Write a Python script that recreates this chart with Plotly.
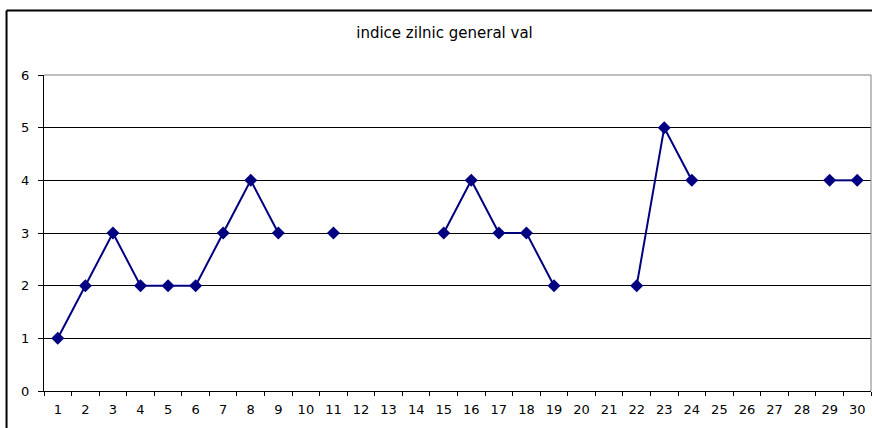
import plotly.graph_objects as go

categories = [str(i) for i in range(1, 31)]
values = [1, 2, 3, 2, 2, 2, 3, 4, 3, None, 3, None, None, None, 3, 4, 3, 3, 2, None,
          None, 2, 5, 4, None, None, None, None, 4, 4]
y_ticks = [0, 1, 2, 3, 4, 5, 6]
title_text = "indice zilnic general val"

fig = go.Figure()
fig.add_trace(go.Scatter(
    x=categories, y=values, mode="lines+markers",
    line=dict(color="#000080", width=2),
    marker=dict(symbol="diamond", size=10, color="#000080"),
    connectgaps=False, showlegend=False,
))

W, H = 872, 428
fig.update_layout(
    width=W, height=H,
    margin=dict(l=44, r=1, t=75, b=37),
    paper_bgcolor="white", plot_bgcolor="white",
    font=dict(family="DejaVu Sans", size=13, color="black"),
    title=dict(text=title_text, xref="container", x=444.5 / W, xanchor="center",
               yref="container", y=1 - 33 / H, yanchor="middle",
               font=dict(size=15, color="black")),
    xaxis=dict(type="category", range=[-0.5, 29.5], showgrid=False,
               showline=True, linecolor="black", linewidth=1,
               ticks="outside", tickson="boundaries", ticklen=4, tickcolor="black",
               tickfont=dict(size=13), ticklabelstandoff=6, fixedrange=True),
    yaxis=dict(range=[0, 6], tickvals=y_ticks, showgrid=True, gridcolor="black", gridwidth=1,
               showline=True, linecolor="black", linewidth=1, zeroline=False,
               ticks="outside", ticklen=5, tickcolor="black", tickfont=dict(size=13),
               ticklabelstandoff=6, fixedrange=True),
    shapes=[
        dict(type="line", xref="paper", yref="paper", x0=0, x1=1, y0=1, y1=1,
             line=dict(color="#808080", width=1)),
        dict(type="line", xref="paper", yref="paper", x0=1, x1=1, y0=0, y1=1,
             line=dict(color="#808080", width=1)),
        dict(type="line", xref="paper", yref="paper", x0=-0.0453, x1=1.1, y0=1.204, y1=1.204,
             line=dict(color="black", width=2)),
        dict(type="line", xref="paper", yref="paper", x0=-0.0453, x1=-0.0453, y0=-0.3, y1=1.204,
             line=dict(color="black", width=2)),
    ],
)

fig.write_html("out.html", config={"displayModeBar": False},
               post_script="document.body.style.margin='0';")
